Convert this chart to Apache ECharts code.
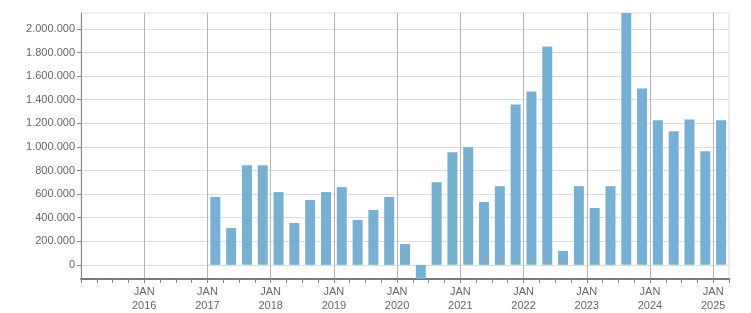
<!DOCTYPE html>
<html><head><meta charset="utf-8">
<script src="https://cdn.jsdelivr.net/npm/echarts@6/dist/echarts.min.js"></script>
<style>html,body{margin:0;padding:0;background:#fff}#c{width:751px;height:313px}</style>
</head><body><div id="c"></div>
<script>
// Quarterly values (bars), Q1 2017 .. Q1 2025
const quarters = [
  '2017-Q1','2017-Q2','2017-Q3','2017-Q4',
  '2018-Q1','2018-Q2','2018-Q3','2018-Q4',
  '2019-Q1','2019-Q2','2019-Q3','2019-Q4',
  '2020-Q1','2020-Q2','2020-Q3','2020-Q4',
  '2021-Q1','2021-Q2','2021-Q3','2021-Q4',
  '2022-Q1','2022-Q2','2022-Q3','2022-Q4',
  '2023-Q1','2023-Q2','2023-Q3','2023-Q4',
  '2024-Q1','2024-Q2','2024-Q3','2024-Q4',
  '2025-Q1'
];
const values = [
  575000, 313000, 845000, 845000,
  617000, 355000, 549000, 617000,
  659000, 380000, 465000, 575000,
  177000, -120000, 701000, 955000,
  997000, 532000, 667000, 1360000,
  1470000, 1850000, 118000, 667000,
  482000, 667000, 2135000, 1495000,
  1225000, 1132000, 1233000, 963000,
  1225000
];
const yearTicks = [2016, 2017, 2018, 2019, 2020, 2021, 2022, 2023, 2024, 2025];
const yTicks = [0, 200000, 400000, 600000, 800000, 1000000, 1200000, 1400000, 1600000, 1800000, 2000000];

const xStart = 2015, xEnd = 2025.25;
const yMin = -120000, yMax = 2135000;

function qToX(q) {
  const [y, qq] = q.split('-Q');
  return Number(y) + (Number(qq) - 1) * 0.25 + 0.125;
}
function fmt(v) {
  return String(v).replace(/\B(?=(\d{3})+(?!\d))/g, '.');
}

const chart = echarts.init(document.getElementById('c'), null, {renderer: 'canvas'});
const font = 'Liberation Sans';
chart.setOption({
  animation: false,
  grid: {left: 81, right: 22, top: 13, bottom: 32, show: true, borderColor: '#dddddd', borderWidth: 1, containLabel: false},
  xAxis: [
    {
      type: 'value', min: xStart, max: xEnd, interval: 0.25, position: 'bottom',
      axisLine: {show: true, onZero: false, lineStyle: {color: '#777777', width: 2}},
      axisTick: {show: true, length: 4, lineStyle: {color: '#888888', width: 1}},
      axisLabel: {show: false},
      splitLine: {show: false}
    },
    {
      type: 'value', min: xStart, max: xEnd, position: 'bottom',
      axisLine: {show: false, onZero: false},
      axisTick: {show: false, customValues: yearTicks},
      axisLabel: {
        show: true, customValues: yearTicks, margin: 6,
        color: '#666666', fontFamily: font, fontSize: 11, lineHeight: 14,
        formatter: v => 'JAN\n' + v
      },
      splitLine: {show: true, lineStyle: {color: '#b5b5b5', width: 1}}
    }
  ],
  yAxis: {
    type: 'value', min: yMin, max: yMax,
    axisLine: {show: true, onZero: false, lineStyle: {color: '#888888', width: 1}},
    axisTick: {show: true, length: 4, customValues: yTicks, lineStyle: {color: '#888888'}},
    axisLabel: {
      customValues: yTicks, margin: 6,
      color: '#666666', fontFamily: font, fontSize: 11,
      formatter: v => fmt(v)
    },
    splitLine: {show: true, lineStyle: {color: '#dddddd', width: 1}}
  },
  series: [{
    type: 'bar', xAxisIndex: 0,
    barWidth: 10,
    itemStyle: {color: '#78b0d3'},
    data: quarters.map((q, i) => [qToX(q), values[i]])
  }]
});
</script>
</body></html>
